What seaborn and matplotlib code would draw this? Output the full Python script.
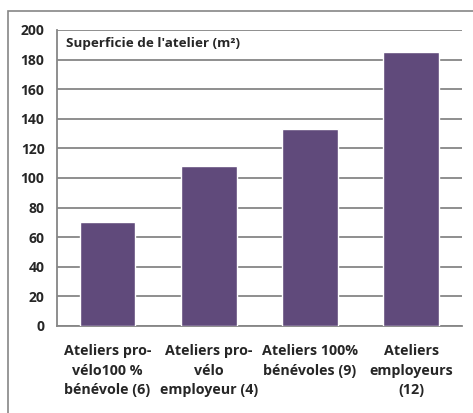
import matplotlib
matplotlib.use("Agg")
import matplotlib.pyplot as plt
import seaborn as sns
import pandas as pd
from matplotlib.patches import Rectangle

# Chart data
categories = ["Ateliers pro-\nvélo100 %\nbénévole (6)",
              "Ateliers pro-\nvélo\nemployeur (4)",
              "Ateliers 100%\nbénévoles (9)",
              "Ateliers\nemployeurs\n(12)"]
surfaces = [70, 108, 133, 185]
y_ticks = [0, 20, 40, 60, 80, 100, 120, 140, 160, 180, 200]
title = "Superficie de l'atelier (m²)"

sns.set_style("white")
plt.rcParams['font.family'] = ['Open Sans', 'DejaVu Sans']

df = pd.DataFrame({"cat": categories, "surface": surfaces})

fig = plt.figure(figsize=(4.73, 4.13), dpi=100)
ax = fig.add_axes([0.1205, 0.2107, 0.856, 0.7167])

grid_col = "#868686"
sns.barplot(data=df, x="cat", y="surface", color="#604A7B", width=0.55,
            saturation=1, ax=ax, zorder=3)

ax.set_ylim(0, 200)
ax.set_xlim(-0.5, 3.5)
ax.set_yticks(y_ticks)
ax.yaxis.grid(True, color=grid_col, linewidth=1.3, zorder=0)
ax.set_axisbelow(True)
ax.set_xlabel("")
ax.set_ylabel("")

for s in ["top", "right"]:
    ax.spines[s].set_visible(False)
for s in ["left", "bottom"]:
    ax.spines[s].set_color(grid_col)
    ax.spines[s].set_linewidth(1.3)

ax.tick_params(axis="y", length=5, width=1.3, color=grid_col, direction="out",
               labelsize=10, pad=4)
ax.tick_params(axis="x", which="major", length=0, labelsize=10.3, pad=13)
ax.set_xticks([-0.5, 0.5, 1.5, 2.5, 3.5], minor=True)
ax.tick_params(axis="x", which="minor", length=5, width=1.3, color=grid_col,
               direction="out")
for lab in ax.get_yticklabels() + ax.get_xticklabels():
    lab.set_fontweight("bold")
for lab in ax.get_xticklabels():
    lab.set_linespacing(1.5)
    lab.set_horizontalalignment("center")

ax.text(0.022, 0.955, title, transform=ax.transAxes, fontsize=9.7,
        fontweight="bold", va="center", ha="left")

# outer chart frame
fig.patches.append(Rectangle((8 / 473, -0.05), 1.2, (413 - 11) / 413 + 0.05,
                             transform=fig.transFigure, fill=False,
                             edgecolor=grid_col, linewidth=1.2))

fig.savefig("out.png", dpi=100)
